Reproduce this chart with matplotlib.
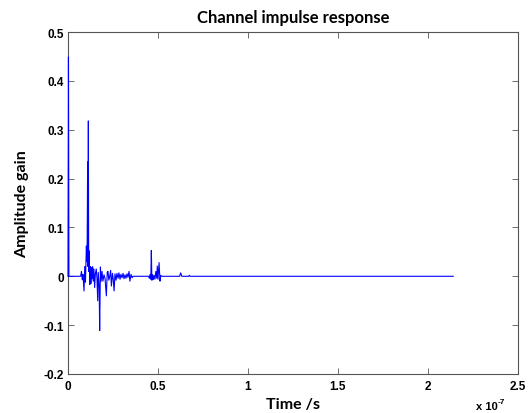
import matplotlib
matplotlib.use('Agg')
from matplotlib import pyplot as plt
from matplotlib.font_manager import FontProperties
import numpy as np

# channel impulse response, time in units of 1e-7 s (in ns)
time_ns = [0, 0.25, 0.5, 7.0, 7.5, 7.9, 8.3, 8.9, 9.3, 9.7, 10.2, 10.6, 10.9, 11.1, 11.3, 11.5,
           11.8, 12.1, 12.4, 12.7, 13.0, 13.3, 13.7, 14.0, 14.4, 14.8, 15.2, 15.7, 16.1, 16.5,
           16.8, 17.3, 17.6, 18.0, 18.4, 18.9, 19.4, 20.0, 20.6, 21.3, 21.8, 22.2, 22.7, 23.2,
           23.7, 24.1, 24.7, 25.1, 25.6, 26.1, 26.7, 27.2, 27.8, 28.3, 28.9, 29.4, 30.0, 30.6,
           31.1, 31.7, 32.2, 32.8, 33.3, 33.9, 34.4, 35.0, 35.6, 36.1, 44.8, 45.2, 45.6, 46.0,
           46.3, 46.6, 47.0, 47.4, 47.8, 48.3, 48.8, 49.3, 49.6, 50.0, 50.6, 51.1, 51.5, 52.1,
           62.0, 62.6, 63.2, 67.0, 67.4, 67.8, 214.0]
amplitude = [0.0, 0.449, 0.0, 0.0, 0.010, -0.007, 0.004, -0.030, 0.020, -0.012, 0.062, 0.030,
             0.234, 0.020, 0.318, 0.010, 0.052, -0.017, 0.020, -0.015, 0.018, -0.005, 0.020,
             -0.010, 0.015, -0.023, 0.005, 0.015, -0.005, -0.050, 0.008, -0.020, -0.111, 0.019,
             -0.010, 0.010, -0.010, 0.003, -0.005, -0.040, 0.008, 0.010, -0.008, 0.0, 0.012,
             -0.020, 0.006, -0.005, -0.030, 0.005, -0.008, 0.006, -0.004, 0.007, -0.006, 0.004,
             -0.003, 0.006, -0.005, 0.003, -0.004, 0.005, -0.002, 0.010, -0.010, 0.004, -0.003,
             0.0, 0.0, -0.004, 0.004, -0.006, 0.053, -0.008, 0.003, -0.007, 0.002, -0.006,
             0.010, -0.004, 0.021, -0.006, 0.028, -0.010, 0.002, 0.0, 0.0, 0.007, 0.0, 0.0,
             0.002, 0.0, 0.0]

xticks = [0, 0.5, 1, 1.5, 2, 2.5]
xticklabels = ['0', '0.5', '1', '1.5', '2', '2.5']
yticks = [-0.2, -0.1, 0, 0.1, 0.2, 0.3, 0.4, 0.5]
yticklabels = ['-0.2', '-0.1', '0', '0.1', '0.2', '0.3', '0.4', '0.5']

t = np.array(time_ns) / 100.0  # ns -> units of 1e-7 s

fig = plt.figure(figsize=(5.28, 4.14), dpi=100)
ax = fig.add_axes([68/528, 39/414, 450/528, 342/414])
ax.plot(t, amplitude, color=(0, 0, 1), linewidth=0.8, zorder=3, clip_on=False)

ax.set_xlim(0, 2.5)
ax.set_ylim(-0.2, 0.5)
ax.set_xticks(xticks)
ax.set_xticklabels(xticklabels)
ax.set_yticks(yticks)
ax.set_yticklabels(yticklabels)

tickfont = FontProperties(family='Liberation Sans', weight='bold', size=8.5)
for lab in ax.get_xticklabels() + ax.get_yticklabels():
    lab.set_fontproperties(tickfont)
ax.tick_params(direction='in', length=4, width=0.6, color='#555555', top=True, right=True)
ax.tick_params(axis='x', pad=4)
ax.tick_params(axis='y', pad=3)
for s in ax.spines.values():
    s.set_color('#555555')
    s.set_linewidth(0.8)

ax.set_title('Channel impulse response', pad=7, family='Lato', weight='bold', size=12)
ax.set_xlabel('Time /s', labelpad=4, family='Lato', weight='bold', size=11.5)
ax.set_ylabel('Amplitude gain', labelpad=10, family='Lato', weight='bold', size=11.5)

fig.text(476/528, 2/414, 'x 10', ha='left', va='bottom',
         family='Liberation Sans', weight='bold', size=8)
fig.text(498/528, 8/414, '-7', ha='left', va='bottom',
         family='Liberation Sans', weight='bold', size=6)

fig.savefig('out.png', dpi=100)
